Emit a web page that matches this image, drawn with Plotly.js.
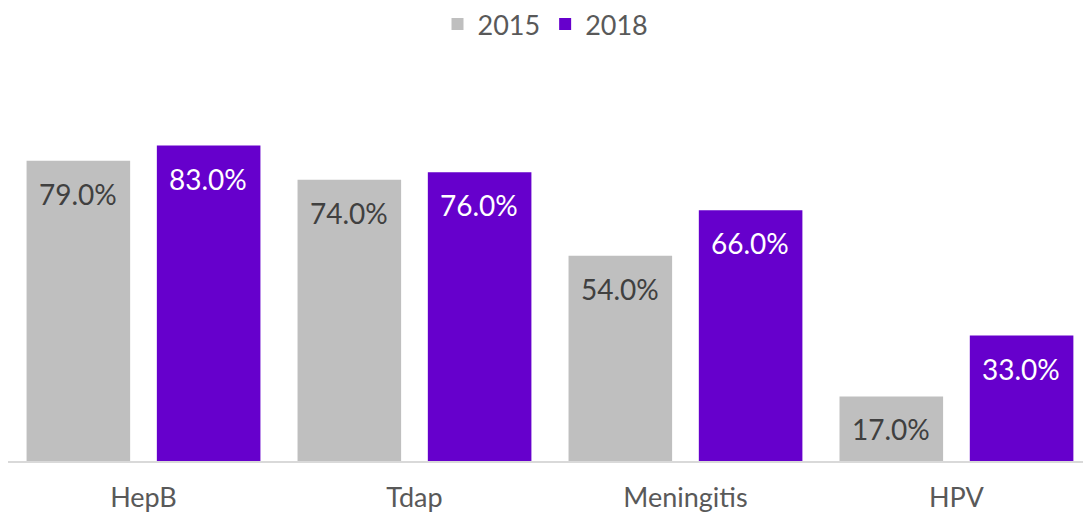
<!DOCTYPE html>
<html><head><meta charset="utf-8">
<script src="https://cdn.plot.ly/plotly-3.0.1.min.js"></script>
<style>html,body{margin:0;padding:0;background:#fff}#chart{width:1083px;height:518px}</style>
</head><body><div id="chart"></div>
<script>
const categories = ["HepB", "Tdap", "Meningitis", "HPV"];
const series2015 = [79.0, 74.0, 54.0, 17.0];
const series2018 = [83.0, 76.0, 66.0, 33.0];
const seriesNames = ["2015", "2018"];

const FONT = "Lato, 'Open Sans', sans-serif";
const fmt = v => v.toFixed(1) + "%";

const traces = [
  {type:"bar", name:seriesNames[0], x:categories, y:series2015, marker:{color:"#bfbfbf"}, hoverinfo:"skip"},
  {type:"bar", name:seriesNames[1], x:categories, y:series2018, marker:{color:"#6600cc"}, hoverinfo:"skip"}
];

const annotations = [];
categories.forEach((c,i)=>{
  annotations.push({x:c, y:series2015[i], xref:"x", yref:"y", text:fmt(series2015[i]), showarrow:false,
    yanchor:"top", xshift:-65, yshift:-14, font:{family:FONT, size:28, color:"#404040"}});
  annotations.push({x:c, y:series2018[i], xref:"x", yref:"y", text:fmt(series2018[i]), showarrow:false,
    yanchor:"top", xshift:65, yshift:-14, font:{family:FONT, size:28, color:"#ffffff"}});
});

const layout = {
  width:1083, height:518,
  margin:{l:8, r:0, t:119, b:57},
  paper_bgcolor:"#fff", plot_bgcolor:"#fff",
  barmode:"group", bargap:0.0384, bargroupgap:0.205,
  font:{family:FONT, size:27, color:"#595959"},
  showlegend:true,
  legend:{orientation:"h", x:0.5, xanchor:"center", y:1, yanchor:"top", yref:"container",
    font:{family:FONT, size:27, color:"#595959"}, itemwidth:30, tracegroupgap:0},
  xaxis:{type:"category", range:[-0.5, 3.467], showgrid:false, showline:true, linecolor:"#d9d9d9", linewidth:2,
    ticks:"", ticklabelstandoff:12, tickfont:{family:FONT, size:27, color:"#595959"}, zeroline:false},
  yaxis:{range:[0,90], showgrid:false, showticklabels:false, zeroline:false, showline:false, ticks:""},
  annotations:annotations
};

Plotly.newPlot("chart", traces, layout, {staticPlot:true, displayModeBar:false});
</script></body></html>
